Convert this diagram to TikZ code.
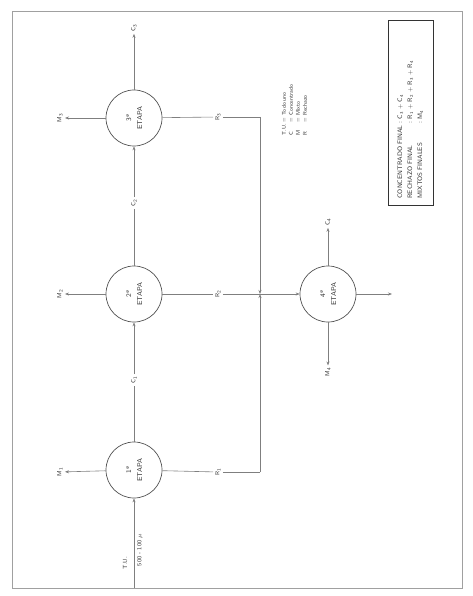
\documentclass[tikz,border=0pt]{standalone}
\usetikzlibrary{arrows.meta,positioning}
\definecolor{ink}{HTML}{333333}
\definecolor{linegray}{HTML}{7F7F7F}
\definecolor{framegray}{HTML}{A0A0A0}

\begin{document}
\begin{tikzpicture}[
  x=1pt, y=-1pt,
  >={Stealth[length=4pt,width=3pt]},
  etapa/.style={draw=ink!85, circle, minimum size=56pt, inner sep=0pt, line width=0.7pt,
    font=\sffamily\fontsize{7}{11}\selectfont, text=ink, align=center, rotate=90},
  lbl/.style={font=\sffamily\fontsize{6}{7}\selectfont, text=ink, inner sep=2pt, rotate=90},
  flow/.style={->, color=linegray, line width=0.6pt},
  pipe/.style={color=linegray, line width=0.6pt},
]
\useasboundingbox (0,0) rectangle (473,596);
\draw[framegray, line width=0.8pt] (12,11) rectangle (462,588);

% etapas
\node[etapa] (e1) at (134,470) {1ª\\ETAPA};
\node[etapa] (e2) at (134,294) {2ª\\ETAPA};
\node[etapa] (e3) at (134,118) {3ª\\ETAPA};
\node[etapa] (e4) at (328,294) {4ª\\ETAPA};

% labels on the flows
\node[lbl] (c1) at (134,380) {C\textsubscript{1}};
\node[lbl] (c2) at (134,203) {C\textsubscript{2}};
\node[lbl] (c3) at (134,28) {C\textsubscript{3}};
\node[lbl] (c4) at (328,222) {C\textsubscript{4}};
\node[lbl] (m1) at (60,472) {M\textsubscript{1}};
\node[lbl] (m2) at (60,294) {M\textsubscript{2}};
\node[lbl] (m3) at (60,118) {M\textsubscript{3}};
\node[lbl] (m4) at (328,372) {M\textsubscript{4}};
\node[lbl] (r1) at (218,472) {R\textsubscript{1}};
\node[lbl] (r2) at (218,294) {R\textsubscript{2}};
\node[lbl] (r3) at (218,117) {R\textsubscript{3}};
\node[lbl] (tu) at (125,563) {T.U.};
\node[lbl] (gr) at (140,550) {500 - 100 $\mu$};

\coordinate (feed) at (134,588);
\coordinate (k1) at (260,472);
\coordinate (k3) at (260,117);
\coordinate (jn) at (260,294);
\coordinate (out4) at (392,294);

% concentrados
\draw[flow] (feed) -- (e1);
\draw[pipe] (e1) -- (c1);
\draw[flow] (c1) -- (e2);
\draw[pipe] (e2) -- (c2);
\draw[flow] (c2) -- (e3);
\draw[flow] (e3) -- (c3);
\draw[flow] (e4) -- (c4);

% mixtos
\draw[flow] (e1) -- (m1);
\draw[flow] (e2) -- (m2);
\draw[flow] (e3) -- (m3);
\draw[flow] (e4) -- (m4);

% rechazos
\draw[pipe] (e1) -- (r1);
\draw[pipe] (r1) -- (k1);
\draw[flow] (k1) -- (jn);
\draw[pipe] (e3) -- (r3);
\draw[pipe] (r3) -- (k3);
\draw[flow] (k3) -- (jn);
\draw[pipe] (e2) -- (r2);
\draw[pipe] (r2) -- (jn);
\draw[flow] (jn) -- (e4);
\draw[flow] (e4) -- (out4);

% leyenda
\node[lbl, font=\sffamily\fontsize{5.5}{7}\selectfont] (ley) at (295,110) {%
  \begin{tabular}{@{}l@{ = }l@{}}
    T.U. & Todo uno\\
    C & Concentrado\\
    M & Mixto\\
    R & Rechazo
  \end{tabular}};

\node[lbl, draw=ink, line width=0.7pt, font=\sffamily\fontsize{6.5}{8}\selectfont,
  minimum width=185pt, minimum height=45pt, text width=172pt, align=left] (fin) at (410.5,112.5) {%
  \begin{tabular}{@{}l@{\ :\ }l@{}}
    CONCENTRADO FINAL & C\textsubscript{3} + C\textsubscript{4}\\[2pt]
    RECHAZO FINAL & R\textsubscript{1} + R\textsubscript{2} + R\textsubscript{3} + R\textsubscript{4}\\[2pt]
    MIXTOS FINALES & M\textsubscript{4}
  \end{tabular}};
\end{tikzpicture}
\end{document}
